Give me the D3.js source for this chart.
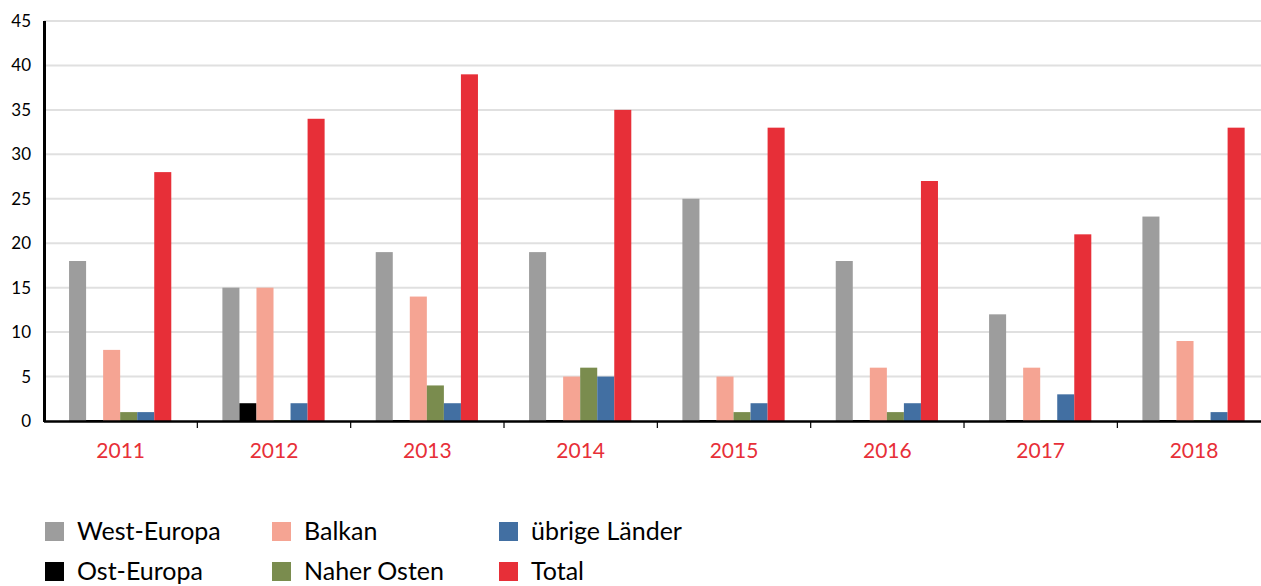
<!DOCTYPE html>
<html><head><meta charset="utf-8">
<script src="https://cdn.jsdelivr.net/npm/d3@7"></script>
<style>
html,body{margin:0;padding:0;background:#fff;}
svg{display:block;font-family:"Lato","Open Sans",sans-serif;}
</style></head>
<body>
<svg id="chart" width="1261" height="586"></svg>
<script>
const years = ["2011","2012","2013","2014","2015","2016","2017","2018"];
const seriesNames = ["West-Europa","Ost-Europa","Balkan","Naher Osten","übrige Länder","Total"];
const westEuropa   = [18,15,19,19,25,18,12,23];
const ostEuropa    = [0,2,0,0,0,0,0,0];
const balkan       = [8,15,14,5,5,6,6,9];
const naherOsten   = [1,0,4,6,1,1,0,0];
const uebrige      = [1,2,2,5,2,2,3,1];
const total        = [28,34,39,35,33,27,21,33];
const yTicks = [0,5,10,15,20,25,30,35,40,45];
const colors = ["#9d9d9d","#000000","#f5a493","#7a8c4e","#426fa2","#e72f38"];

(function(){
const values = [westEuropa, ostEuropa, balkan, naherOsten, uebrige, total];
const data = years.map((yr,i)=>({year:yr, vals: seriesNames.map((s,j)=>({name:s, value: values[j][i], color: colors[j]}))}));

const svg = d3.select("#chart");
const mLeft = 44, mRight = 1270.7, mTop = 21, mBottom = 421;

const x0 = d3.scaleBand().domain(years).range([mLeft, mRight]).padding(0);
const x1 = d3.scaleBand().domain(seriesNames).range([0, x0.bandwidth()]).paddingInner(0).paddingOuter(1.5);
const y = d3.scaleLinear().domain([0,45]).range([mBottom, mTop]);

// gridlines
svg.append("g").selectAll("line").data(yTicks.filter(t=>t>0)).join("line")
  .attr("x1", mLeft).attr("x2", 1261)
  .attr("y1", d=>y(d)).attr("y2", d=>y(d))
  .attr("stroke", "#e0e0e0").attr("stroke-width", 2);

// bars
const g = svg.append("g").selectAll("g").data(data).join("g")
  .attr("transform", d=>`translate(${x0(d.year)},0)`);
g.selectAll("rect").data(d=>d.vals).join("rect")
  .attr("x", d=>x1(d.name) - 0.5)
  .attr("width", x1.bandwidth())
  .attr("y", d=>y(d.value) - (d.value===0?1:0))
  .attr("height", d=>mBottom - y(d.value) + (d.value===0?1:0))
  .attr("fill", d=>d.color);

// y axis
const yAxis = svg.append("g").attr("transform", `translate(${mLeft},0)`)
  .call(d3.axisLeft(y).tickValues(yTicks).tickSize(0).tickPadding(13));
yAxis.select(".domain").remove();
yAxis.selectAll("text").attr("font-size", 17).attr("fill", "#000")
  .attr("font-family", "Lato, sans-serif");
svg.append("line").attr("x1", mLeft+0.5).attr("x2", mLeft+0.5).attr("y1", mTop).attr("y2", mBottom+1)
  .attr("stroke", "#000").attr("stroke-width", 3);

// x axis
const xAxis = svg.append("g").attr("transform", `translate(0,${mBottom})`)
  .call(d3.axisBottom(x0).tickSize(0).tickPadding(22));
xAxis.select(".domain").remove();
xAxis.selectAll("text").attr("font-size", 21).attr("fill", "#e72f38")
  .attr("font-family", "Lato, sans-serif");
// group boundary ticks
svg.append("g").selectAll("line").data(years.slice(1)).join("line")
  .attr("x1", d=>x0(d)).attr("x2", d=>x0(d))
  .attr("y1", mBottom+1).attr("y2", mBottom+7)
  .attr("stroke", "#000").attr("stroke-width", 1.2);
svg.append("line").attr("x1", mLeft).attr("x2", 1261).attr("y1", mBottom+0.5).attr("y2", mBottom+0.5)
  .attr("stroke", "#000").attr("stroke-width", 2.5);

// legend
const legendOrder = [0,2,4,1,3,5];
const legend = svg.append("g");
legendOrder.forEach((si, k)=>{
  const col = k % 3, row = Math.floor(k/3);
  const lx = 45 + col*227, ly = 522 + row*40;
  legend.append("rect").attr("x", lx).attr("y", ly).attr("width", 19).attr("height", 19).attr("fill", colors[si]);
  legend.append("text").attr("x", lx+32).attr("y", ly+18).attr("font-size", 25)
    .attr("fill", "#000").text(seriesNames[si]);
});
})();
</script>
</body></html>
